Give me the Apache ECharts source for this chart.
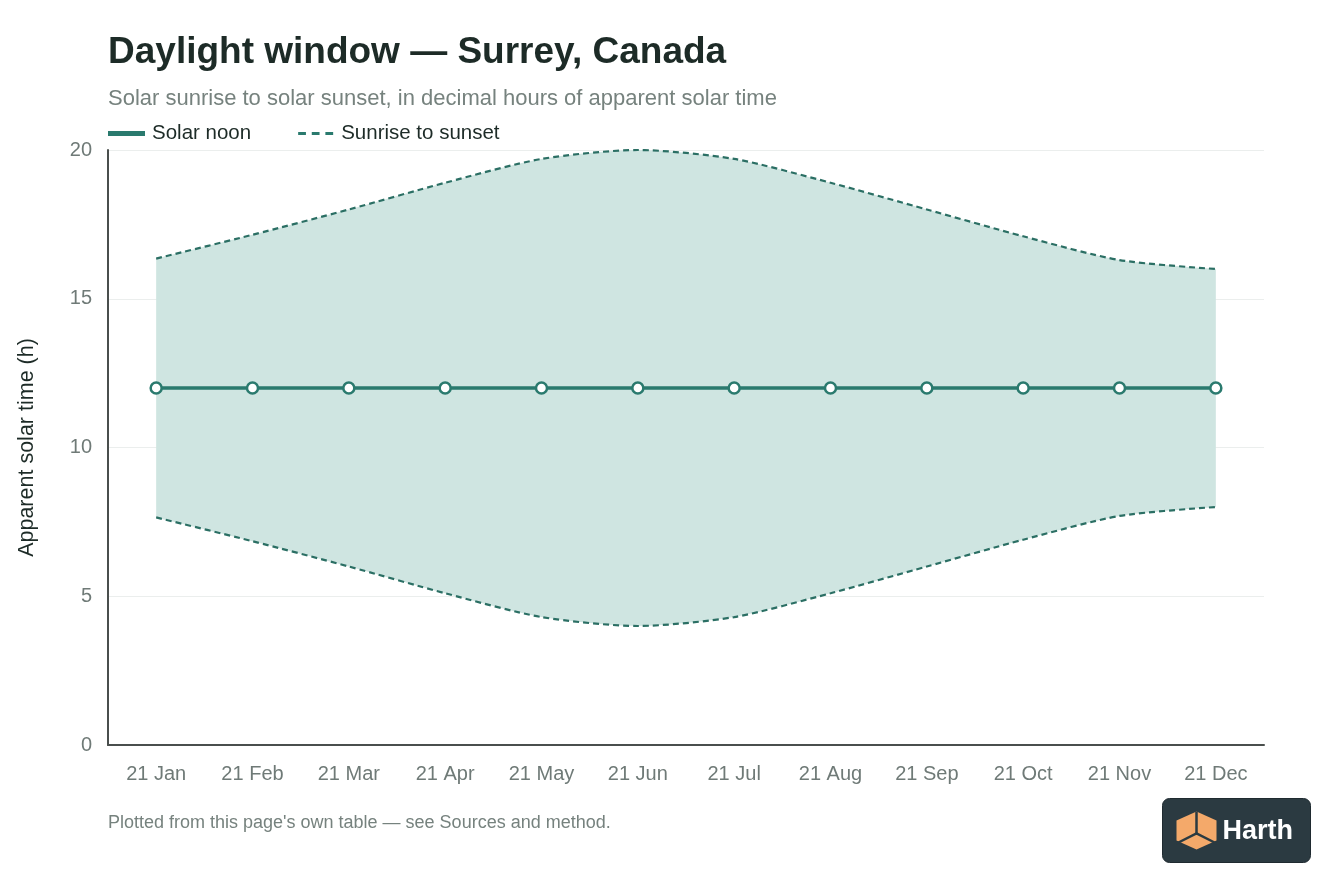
<!DOCTYPE html>
<html>
<head>
<meta charset="utf-8">
<script src="https://cdn.jsdelivr.net/npm/echarts@6/dist/echarts.min.js"></script>
<style>
html,body{margin:0;padding:0;background:#fff;}
#chart{width:1344px;height:896px;}
</style>
</head>
<body>
<div id="chart"></div>
<script>
const categories = ['21 Jan','21 Feb','21 Mar','21 Apr','21 May','21 Jun','21 Jul','21 Aug','21 Sep','21 Oct','21 Nov','21 Dec'];
const solarNoon = [12,12,12,12,12,12,12,12,12,12,12,12];
const sunrise = [7.65,6.85,6.0,5.1,4.3,4.0,4.3,5.1,6.0,6.9,7.7,8.0];
const sunset = [16.35,17.15,18.0,18.9,19.7,20.0,19.7,18.9,18.0,17.1,16.3,16.0];
const yTicks = [0,5,10,15,20];

const bandHeight = sunset.map((v,i)=> +(v - sunrise[i]).toFixed(2));
const FONT = '"Liberation Sans", Arial, sans-serif';
const TEAL = '#2a7a6e';
const DASH = '#2b6f64';
const SMOOTH = 0.25;

const chart = echarts.init(document.getElementById('chart'), null, {renderer:'canvas'});
chart.setOption({
  backgroundColor:'#ffffff',
  animation:false,
  textStyle:{fontFamily:FONT},
  title:[
    {text:'Daylight window — Surrey, Canada', left:108, top:34, padding:0,
     textStyle:{fontFamily:FONT, fontSize:37, fontWeight:'bold', color:'#1d2b27'}},
    {text:'Solar sunrise to solar sunset, in decimal hours of apparent solar time', left:108, top:88, padding:0,
     textStyle:{fontFamily:FONT, fontSize:22, fontWeight:'normal', color:'#76827e'}},
    {text:"Plotted from this page's own table — see Sources and method.", left:108, top:814, padding:0,
     textStyle:{fontFamily:FONT, fontSize:18, fontWeight:'normal', color:'#76827e'}}
  ],
  legend:{
    data:[
      {name:'Solar noon', icon:'path://M0,0 L36,0 L36,3 L0,3 Z'},
      {name:'Sunrise to sunset', icon:'path://M0,0 L8,0 L8,3 L0,3 Z M14,0 L22,0 L22,3 L14,3 Z M28,0 L36,0 L36,3 L28,3 Z'}
    ],
    left:108, top:123, padding:0, itemWidth:35, itemHeight:3, itemGap:47,
    textStyle:{fontFamily:FONT, fontSize:20.5, color:'#1d2b27', padding:[0,0,0,3]},
    itemStyle:{color:TEAL}
  },
  grid:{left:108, right:80, top:150, bottom:151, containLabel:false},
  xAxis:{
    type:'category', data:categories, boundaryGap:true,
    axisLine:{show:true, lineStyle:{color:'#4a4f4d', width:2}},
    axisTick:{show:false},
    axisLabel:{fontFamily:FONT, fontSize:20, color:'#6f7a77', margin:19},
    splitLine:{show:false}
  },
  yAxis:{
    type:'value', min:0, max:20, interval:5,
    name:'Apparent solar time (h)', nameLocation:'middle', nameGap:70, nameRotate:90,
    nameTextStyle:{fontFamily:FONT, fontSize:21.5, color:'#1d2b27'},
    axisLine:{show:true, lineStyle:{color:'#4a4f4d', width:2}},
    axisTick:{show:false},
    axisLabel:{fontFamily:FONT, fontSize:20, color:'#6f7a77', margin:16,
      formatter:(v)=> yTicks.includes(v) ? String(v) : ''},
    splitLine:{show:true, lineStyle:{color:'#ebeeed', width:1.2}}
  },
  series:[
    {name:'Sunrise to sunset', type:'line', data:sunrise, stack:'band', smooth:SMOOTH,
     symbol:'none', lineStyle:{color:DASH, width:2.2, type:[6,4]}, itemStyle:{color:TEAL}, z:3},
    {name:'band', type:'line', data:bandHeight, stack:'band', smooth:SMOOTH,
     symbol:'none', lineStyle:{opacity:0, width:0}, areaStyle:{color:'#cfe5e1', opacity:1}, z:1, silent:true},
    {name:'Sunrise to sunset', type:'line', data:sunset, smooth:SMOOTH,
     symbol:'none', lineStyle:{color:DASH, width:2.2, type:[6,4]}, itemStyle:{color:TEAL}, z:3},
    {name:'Solar noon', type:'line', data:solarNoon, symbol:'circle', symbolSize:11,
     lineStyle:{color:TEAL, width:3.5}, itemStyle:{color:'#ffffff', borderColor:TEAL, borderWidth:2.5}, z:4}
  ],
  graphic:[
    {type:'group', left:1162, top:798, children:[
      {type:'rect', shape:{x:0,y:0,width:148,height:64,r:7}, style:{fill:'#2b3a41', stroke:'#1f2a30', lineWidth:1}},
      {type:'polygon', shape:{points:[[34,13],[54,22],[54,42],[34,51],[14,42],[14,22]]}, style:{fill:'#f4a96a'}},
      {type:'polyline', shape:{points:[[34,13],[34,35]]}, style:{stroke:'#2b3a41', lineWidth:2.5, fill:null}},
      {type:'polyline', shape:{points:[[14,45],[34,35],[54,45]]}, style:{stroke:'#2b3a41', lineWidth:2.5, fill:null}},
      {type:'text', style:{text:'Harth', x:60, y:33, fill:'#ffffff', font:'bold 27px "Liberation Sans", Arial, sans-serif', textVerticalAlign:'middle'}}
    ]}
  ]
});
</script>
</body>
</html>
